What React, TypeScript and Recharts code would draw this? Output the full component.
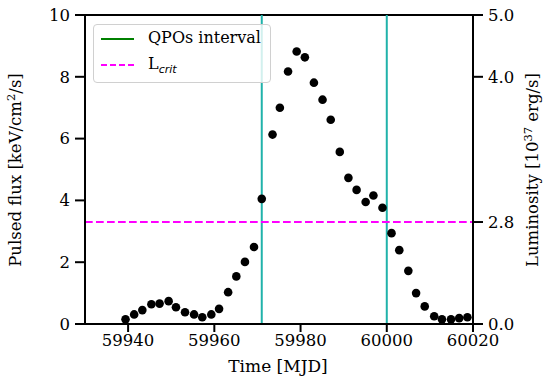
import React from "react";
import {
  ComposedChart,
  Scatter,
  XAxis,
  YAxis,
  ReferenceLine,
  ReferenceArea,
} from "recharts";

// observation times [MJD] and pulsed flux [keV/cm^2/s]
const mjd = [
  59939.4, 59941.4, 59943.3, 59945.4, 59947.3, 59949.4, 59951.1, 59953.2,
  59955.3, 59957.2, 59959.3, 59961.1, 59963.2, 59965.1, 59967.1, 59969.2,
  59971.0, 59973.5, 59975.2, 59977.1, 59979.1, 59981.0, 59983.1, 59985.1,
  59987.0, 59989.1, 59991.1, 59993.0, 59995.1, 59996.9, 59999.0, 60001.1,
  60002.9, 60005.0, 60006.8, 60008.8, 60011.0, 60012.8, 60014.9, 60016.8,
  60018.7,
];
const flux = [
  0.15, 0.31, 0.45, 0.64, 0.66, 0.74, 0.54, 0.38, 0.31, 0.22, 0.31, 0.49,
  1.03, 1.54, 2.01, 2.49, 4.05, 6.13, 7.0, 8.17, 8.82, 8.63, 7.81, 7.26, 6.61,
  5.57, 4.73, 4.34, 3.95, 4.16, 3.76, 2.94, 2.39, 1.72, 1.0, 0.57, 0.25, 0.15,
  0.15, 0.19, 0.22,
];

const qpoStart = 59971;
const qpoEnd = 60000;
const lCrit = 3.3; // in flux units, = 2.8e37 erg/s

const xDomain = [59930, 60020];
const yDomain = [0, 10];
const xTicks = [59940, 59960, 59980, 60000, 60020];
const fluxTicks = [0, 2, 4, 6, 8, 10];
const lumTickPos = [0, 3.3, 8, 10];
const lumTickLabels = ["0.0", "2.8", "4.0", "5.0"];

const data = mjd.map((t, i) => ({ t, flux: flux[i] }));

const FONT = "DejaVu Serif";
const tickStyle = { fill: "#000", fontSize: 16.5, fontFamily: FONT };
const TEAL = "#20b2aa";
const MAGENTA = "#ff00ff";

const Dot = (p: any) => <circle cx={p.cx} cy={p.cy} r={4.3} fill="#000" />;
const NoDot = () => <g />;

export default function App() {
  return (
    <div style={{ position: "absolute", left: 0, top: 0, width: 555, height: 385, background: "#fff" }}>
      <ComposedChart
        width={555}
        height={385}
        data={data}
        margin={{ top: 15, right: 0, bottom: 0, left: 0 }}
      >
        <XAxis
          dataKey="t"
          type="number"
          domain={xDomain}
          ticks={xTicks}
          tick={tickStyle}
          tickSize={8}
          tickMargin={2}
          stroke="#000"
          strokeWidth={2}
          height={61}
          label={() => (
            <text x={278} y={372} textAnchor="middle" fontSize={17} fontFamily={FONT} fill="#000">
              Time [MJD]
            </text>
          )}
        />
        <YAxis
          yAxisId="left"
          domain={yDomain}
          ticks={fluxTicks}
          tick={tickStyle}
          tickSize={10}
          tickMargin={5}
          stroke="#000"
          strokeWidth={2}
          width={85}
        />
        <YAxis
          yAxisId="right"
          orientation="right"
          domain={yDomain}
          ticks={lumTickPos}
          tickFormatter={(v: number) => lumTickLabels[lumTickPos.indexOf(v)] ?? ""}
          tick={tickStyle}
          tickSize={10}
          tickMargin={5}
          stroke="#000"
          strokeWidth={2}
          width={82}
        />
        {/* plot frame */}
        <ReferenceArea
          yAxisId="left"
          x1={xDomain[0]}
          x2={xDomain[1]}
          y1={yDomain[0]}
          y2={yDomain[1]}
          stroke="#000"
          strokeWidth={2}
          fill="none"
          ifOverflow="visible"
        />
        <ReferenceLine yAxisId="left" x={qpoStart} stroke={TEAL} strokeWidth={2} />
        <ReferenceLine yAxisId="left" x={qpoEnd} stroke={TEAL} strokeWidth={2} />
        <ReferenceLine
          yAxisId="left"
          y={lCrit}
          stroke={MAGENTA}
          strokeWidth={2}
          strokeDasharray="7.7 3.3"
        />
        <Scatter
          yAxisId="right"
          dataKey="flux"
          shape={NoDot}
          legendType="none"
          isAnimationActive={false}
        />
        <Scatter
          yAxisId="left"
          dataKey="flux"
          fill="#000"
          shape={Dot}
          isAnimationActive={false}
        />
      </ComposedChart>
      <svg
        width={555}
        height={385}
        style={{ position: "absolute", left: 0, top: 0, pointerEvents: "none" }}
        fontFamily={FONT}
        fontSize={16.5}
        fill="#000"
      >
        <text transform="translate(21,170) rotate(-90)" textAnchor="middle">
          Pulsed flux [keV/cm
          <tspan dy={-6} fontSize={11.5}>2</tspan>
          <tspan dy={6}>/s]</tspan>
        </text>
        <text transform="translate(538,170) rotate(-90)" textAnchor="middle">
          Luminosity [10
          <tspan dy={-6} fontSize={11.5}>37</tspan>
          <tspan dy={6}> erg/s]</tspan>
        </text>
      </svg>
      <div
        style={{
          position: "absolute",
          left: 93,
          top: 24,
          width: 176,
          height: 57,
          border: "1px solid #d0d0d0",
          borderRadius: 4,
          background: "rgba(255,255,255,0.8)",
          fontFamily: FONT,
          fontSize: 16,
          color: "#000",
        }}
      >
        <div style={{ position: "absolute", left: 7, top: 13, width: 33, borderTop: "2px solid #008000" }} />
        <div style={{ position: "absolute", left: 54, top: 3, lineHeight: "20px", whiteSpace: "nowrap" }}>
          QPOs interval
        </div>
        <div style={{ position: "absolute", left: 7, top: 39, width: 33, borderTop: "2px dashed " + MAGENTA }} />
        <div style={{ position: "absolute", left: 54, top: 29, lineHeight: "20px", whiteSpace: "nowrap" }}>
          L<sub style={{ fontStyle: "italic", fontSize: 11, fontFamily: "DejaVu Sans" }}>crit</sub>
        </div>
      </div>
    </div>
  );
}
